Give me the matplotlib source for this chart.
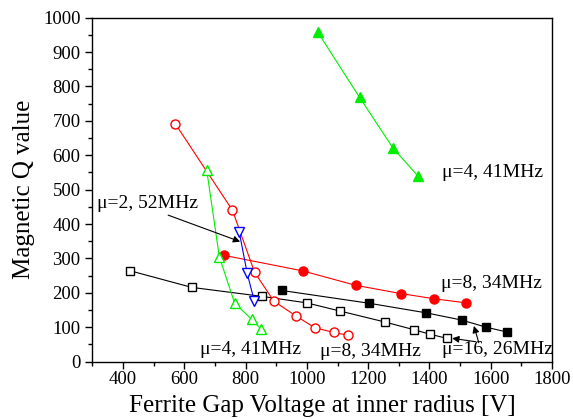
import matplotlib
matplotlib.use("Agg")
import matplotlib.pyplot as plt
from matplotlib.ticker import MultipleLocator

plt.rcParams['font.family'] = ['Liberation Serif', 'DejaVu Serif']

# mu=4, 41MHz (filled triangles, upper)
g_fill_x = [1036, 1172, 1281, 1362]
g_fill_y = [957, 768, 621, 540]
# mu=4, 41MHz (open triangles, lower)
g_open_x = [673, 714, 764, 820, 850]
g_open_y = [556, 305, 170, 123, 95]
# mu=8, 34MHz (filled circles)
r_fill_x = [730, 986, 1159, 1307, 1414, 1519]
r_fill_y = [309, 264, 222, 198, 183, 171]
# mu=8, 34MHz (open circles)
r_open_x = [570, 757, 829, 892, 964, 1025, 1087, 1134]
r_open_y = [692, 440, 260, 176, 133, 99, 85, 77]
# mu=2, 52MHz (open down triangles)
b_open_x = [779, 805, 828]
b_open_y = [377, 257, 177]
# mu=16, 26MHz (filled squares)
k_fill_x = [918, 1202, 1389, 1505, 1586, 1654]
k_fill_y = [207, 170, 142, 121, 100, 86]
# mu=16, 26MHz (open squares)
k_open_x = [424, 624, 852, 999, 1109, 1256, 1349, 1401, 1456]
k_open_y = [264, 216, 190, 171, 147, 115, 93, 80, 68]

x_ticks = [400, 600, 800, 1000, 1200, 1400, 1600, 1800]
y_ticks = [0, 100, 200, 300, 400, 500, 600, 700, 800, 900, 1000]

fig = plt.figure(figsize=(5.73, 4.19), dpi=100)
ax = fig.add_axes([0.1614, 0.1368, 0.8020, 0.8210])

lw = 0.8
ms = 6.5
green = '#00ee00'
ax.plot(k_open_x, k_open_y, '-', color='black', lw=lw, marker='s', ms=ms-1, mfc='white', mec='black', mew=1)
ax.plot(k_fill_x, k_fill_y, '-', color='black', lw=lw, marker='s', ms=ms-1, mfc='black', mec='black')
ax.plot(r_fill_x, r_fill_y, '-', color='red', lw=lw, marker='o', ms=ms, mfc='red', mec='red')
ax.plot(r_open_x, r_open_y, '-', color='red', lw=lw, marker='o', ms=ms, mfc='white', mec='red', mew=1)
ax.plot(g_open_x, g_open_y, '-', color=green, lw=lw, marker='^', ms=ms+1, mfc='white', mec=green, mew=1)
ax.plot(b_open_x, b_open_y, '-', color='blue', lw=lw, marker='v', ms=ms+1, mfc='white', mec='blue', mew=1)
ax.plot(g_fill_x, g_fill_y, '-', color=green, lw=lw, marker='^', ms=ms+1, mfc=green, mec=green)

ax.set_xlim(300, 1800)
ax.set_ylim(0, 1000)
ax.set_xticks(x_ticks)
ax.set_yticks(y_ticks)
ax.xaxis.set_minor_locator(MultipleLocator(100))
ax.yaxis.set_minor_locator(MultipleLocator(50))
ax.tick_params(which='major', direction='out', length=5, width=1, labelsize=13.5, top=False, right=False)
ax.tick_params(axis='x', which='major', pad=1.5)
ax.tick_params(which='minor', direction='out', length=3, width=1, top=False, right=False)
for s in ax.spines.values():
    s.set_linewidth(1)

ax.set_xlabel('Ferrite Gap Voltage at inner radius [V]', fontsize=18, labelpad=5)
ax.set_ylabel('Magnetic Q value', fontsize=18, labelpad=6)

fs = 14
ax.text(1440, 550, 'μ=4, 41MHz', fontsize=fs, va='center', ha='left')
ax.text(316, 461, 'μ=2, 52MHz', fontsize=fs, va='center', ha='left')
ax.text(1436, 226, 'μ=8, 34MHz', fontsize=fs, va='center', ha='left')
ax.text(651, 36, 'μ=4, 41MHz', fontsize=fs, va='center', ha='left')
ax.text(1044, 31, 'μ=8, 34MHz', fontsize=fs, va='center', ha='left')
ax.text(1442, 34, 'μ=16, 26MHz', fontsize=fs, va='center', ha='left')

ap = dict(arrowstyle='-|>', color='black', lw=0.8, mutation_scale=10, shrinkA=0, shrinkB=0)
ax.annotate('', xy=(782, 349), xytext=(547, 426), arrowprops=ap)
ax.annotate('', xy=(1545, 104), xytext=(1561, 55), arrowprops=ap)
ax.annotate('', xy=(1474, 68), xytext=(1551, 58), arrowprops=ap)

fig.savefig('out.png', dpi=100)
